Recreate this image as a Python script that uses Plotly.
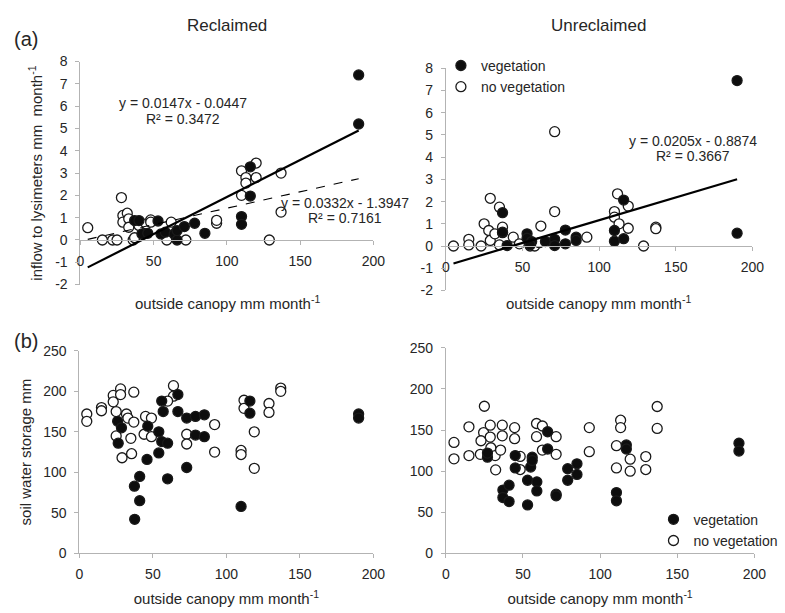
import plotly.graph_objects as go

FONT = "Liberation Sans, Arial, Helvetica, sans-serif"
INK = "#262626"
AXIS = "#b3b3b3"

# ---------------- (a) inflow to lysimeters, mm month-1 ----------------
# Reclaimed
rec_in_veg_x = [37, 40, 42, 46, 53, 55, 58, 64, 66, 66, 71, 78, 85, 110, 110, 116, 116, 190, 190]
rec_in_veg_y = [0.87, 0.87, 0.27, 0.3, 0.85, 0.27, 0.35, 0.27, 0.0, 0.42, 0.6, 0.75, 0.3,
                1.05, 0.7, 3.28, 1.97, 7.4, 5.2]
rec_in_nov_x = [5, 15, 22, 25, 28, 29, 29, 32, 33, 33, 36, 37, 40, 45, 48, 48, 59, 62, 72,
                93, 93, 110, 110, 113, 113, 120, 120, 129, 137, 137]
rec_in_nov_y = [0.55, 0, 0, 0, 1.9, 1.1, 0.8, 1.2, 0.95, 0.57, 0, 0.1, 0.65, 0.72, 0.9, 0.8,
                0, 0.8, 0, 0.75, 0.88, 3.1, 2.0, 2.8, 2.55, 3.45, 2.8, 0, 3.0, 1.25]

# Unreclaimed
unr_in_veg_x = [37, 37, 40, 53, 53, 56, 55, 65, 71, 71, 78, 78, 85, 85, 110, 110, 116, 116, 190, 190]
unr_in_veg_y = [1.5, 0.62, 0.02, 0.55, 0.35, 0.2, 0.05, 0.2, 0.3, 0.02, 0.72, 0.1, 0.4, 0.25,
                0.7, 0.22, 2.07, 0.33, 7.45, 0.58]
unr_in_nov_x = [5, 15, 15, 23, 25, 29, 28, 29, 32, 35, 37, 37, 35, 44, 48, 55, 58, 61, 62, 71,
                71, 92, 110, 110, 112, 113, 119, 119, 129, 137, 137]
unr_in_nov_y = [0, 0.3, 0.05, 0, 1.0, 2.15, 0.7, 0.25, 0.55, 1.75, 0.85, 0.6, 0.05, 0.4, 0.1,
                0, 0, 0.15, 0.9, 5.15, 1.55, 0.4, 1.55, 1.3, 2.35, 1.0, 1.8, 0.8, 0, 0.85, 0.78]

# Linear fits (slope, intercept) and the x span they cover
rec_fit_solid = (0.0332, -1.3947)
rec_fit_dash = (0.0147, -0.0447)
unr_fit_solid = (0.0205, -0.8874)
fit_x_span = [5, 190]

# ---------------- (b) soil water storage, mm ----------------
rec_sw_veg_x = [26, 28.6, 26.4, 37.4, 41, 41, 37.6, 46.5, 46, 54, 54, 56, 60, 56, 57, 60, 67, 67,
                73, 73, 79, 85, 79, 85, 110, 116, 116, 190, 190]
rec_sw_veg_y = [163, 155, 136, 83, 95, 65, 42, 157, 116, 150, 124, 138, 136, 188, 175, 92, 196,
                175, 167, 106, 169, 171, 146, 144, 58, 188, 173, 172, 167]
rec_sw_nov_x = [5, 5, 15, 15, 23, 23, 28, 28, 25, 32, 33, 37, 37, 25, 35, 29, 35.5, 45, 44, 49,
                49, 64, 64, 60, 73, 73, 92, 92, 110, 110, 112, 112, 119, 119, 129, 129, 137, 137]
rec_sw_nov_y = [172, 163, 180, 176, 195, 187, 203, 196, 175, 172, 167, 199, 162, 145, 142, 118,
                123, 169, 147, 167, 144, 207, 194, 188, 147, 135, 159, 125, 127, 122, 189, 179,
                150, 105, 185, 174, 204, 200]

unr_sw_veg_x = [27, 27, 37, 37, 41, 41, 45, 45, 53, 53, 55, 56, 56, 59, 59, 66, 66, 71.5, 71.5,
                79, 79, 85, 85, 110.6, 110.6, 117, 117, 190, 190]
unr_sw_veg_y = [117, 122, 77, 68, 83, 63, 119, 104, 89, 59, 105, 117, 113, 87, 76, 148, 127,
                72, 70, 103, 89, 109, 96, 74, 64, 132, 127, 134, 124.5]
unr_sw_nov_x = [5.3, 5.3, 15, 15, 25, 24.5, 22.8, 22.4, 28.8, 28.8, 29.2, 32, 32.3, 36.6, 36.6,
                35.5, 44.6, 44.6, 48.2, 48.2, 58.8, 58.8, 62.6, 62.6, 71.5, 71.5, 93, 93, 110.6,
                110.6, 113.3, 113.3, 119.5, 119.5, 129.6, 129.6, 137, 137]
unr_sw_nov_y = [135, 115, 154, 119, 179, 147, 137, 120.5, 156, 141.5, 128.5, 119, 101.6, 156,
                143, 125.7, 153, 139.5, 118, 102, 158, 142, 155, 125.7, 142, 120.5, 153, 123.7,
                131, 104, 162, 153, 114.6, 100, 117.8, 102, 178.7, 152]

# Tick values
x_ticks = [0, 50, 100, 150, 200]
inflow_ticks = list(range(-2, 9))
storage_ticks = [0, 50, 100, 150, 200, 250]

fig = go.Figure()


def add_points(x, y, filled, xa, ya, legend=None):
    fig.add_trace(go.Scatter(
        x=x, y=y, mode="markers", xaxis=xa, yaxis=ya,
        name="vegetation" if filled else "no vegetation",
        legendrank=1 if filled else 2,
        showlegend=legend is not None, legend=legend or "legend",
        marker=dict(size=10, symbol="circle",
                    color="#0d0d0d" if filled else "white",
                    line=dict(color="#1a1a1a", width=1.3)),
        hoverinfo="skip"))


def add_fit(coef, xa, ya, dash):
    slope, icpt = coef
    xs = fit_x_span
    fig.add_trace(go.Scatter(
        x=xs, y=[slope * v + icpt for v in xs], mode="lines", xaxis=xa, yaxis=ya,
        showlegend=False, hoverinfo="skip",
        line=dict(color="black", width=2.2 if dash == "solid" else 1.1, dash=dash)))


# panel order: 1 = reclaimed inflow, 2 = unreclaimed inflow, 3 = reclaimed storage, 4 = unreclaimed storage
add_points(rec_in_nov_x, rec_in_nov_y, False, "x", "y")
add_points(rec_in_veg_x, rec_in_veg_y, True, "x", "y")
add_fit(rec_fit_solid, "x", "y", "solid")
add_fit(rec_fit_dash, "x", "y", "dash")

add_points(unr_in_nov_x, unr_in_nov_y, False, "x2", "y2", legend="legend")
add_points(unr_in_veg_x, unr_in_veg_y, True, "x2", "y2", legend="legend")
add_fit(unr_fit_solid, "x2", "y2", "solid")

add_points(rec_sw_nov_x, rec_sw_nov_y, False, "x3", "y3")
add_points(rec_sw_veg_x, rec_sw_veg_y, True, "x3", "y3")

add_points(unr_sw_nov_x, unr_sw_nov_y, False, "x4", "y4", legend="legend2")
add_points(unr_sw_veg_x, unr_sw_veg_y, True, "x4", "y4", legend="legend2")

W, H = 785, 613


def px_x(p):
    return p / W


def px_y(p):
    return 1 - p / H


tick_font = dict(family=FONT, size=14, color=INK)
axis_common = dict(showgrid=False, zeroline=False, showline=True, linecolor=AXIS, linewidth=1,
                   ticks="outside", ticklen=4, tickcolor=AXIS, tickfont=tick_font,
                   tickmode="array")

# plot areas in pixels: (left, right, top, bottom)
box = {1: (78, 377, 55, 284), 2: (451, 764, 62, 290), 3: (77, 377, 352, 560), 4: (451, 766, 349, 560)}


def xdom(i):
    return [px_x(box[i][0]), px_x(box[i][1])]


def ydom(i):
    return [px_y(box[i][3]), px_y(box[i][2])]


def zero_pos(i):
    # paper position of y = 0 on a [-2, 8] axis
    lo, hi = ydom(i)
    return lo + (hi - lo) * 0.2


def labels(vals):
    # plain hyphen for negative numbers
    return [str(v) for v in vals]


def x_axis(i, **kw):
    return dict(domain=xdom(i), range=[0, 200], tickvals=x_ticks, ticktext=labels(x_ticks),
                ticklabelstandoff=4, **kw, **axis_common)


def y_axis(i, rng, vals, **kw):
    return dict(domain=ydom(i), range=rng, tickvals=vals, ticktext=labels(vals),
                ticklabelstandoff=5, anchor="x" if i == 1 else "x%d" % i, **kw, **axis_common)


title_font = dict(family=FONT, size=15, color=INK)
x_title_text = "outside canopy mm month<sup>-1</sup>"

fig.update_layout(
    width=W, height=H, margin=dict(l=0, r=0, t=0, b=0),
    plot_bgcolor="white", paper_bgcolor="white",
    font=dict(family=FONT, color=INK, size=14),
    xaxis=x_axis(1, anchor="free", position=zero_pos(1)),
    yaxis=y_axis(1, [-2, 8], inflow_ticks,
                 title=dict(text="inflow to lysimeters mm  month<sup>-1</sup>", standoff=8, font=title_font)),
    xaxis2=x_axis(2, anchor="free", position=zero_pos(2)),
    yaxis2=y_axis(2, [-2, 8], inflow_ticks),
    xaxis3=x_axis(3, anchor="y3", title=dict(text=x_title_text, standoff=12, font=title_font)),
    yaxis3=y_axis(3, [0, 250], storage_ticks,
                  title=dict(text="soil water storage mm", standoff=8, font=title_font)),
    xaxis4=x_axis(4, anchor="y4", title=dict(text=x_title_text, standoff=12, font=title_font)),
    yaxis4=y_axis(4, [0, 250], storage_ticks),
    legend=dict(x=px_x(446), y=px_y(43), xanchor="left", yanchor="top", bgcolor="rgba(0,0,0,0)",
                font=dict(family=FONT, size=14, color=INK), itemwidth=30, tracegroupgap=0),
    legend2=dict(x=px_x(663), y=px_y(509), xanchor="left", yanchor="top", bgcolor="rgba(0,0,0,0)",
                 font=dict(family=FONT, size=14, color=INK), itemwidth=30, tracegroupgap=0),
)

ann = []


def text(x, y, s, size=14, xref="paper", yref="paper", xanchor="center"):
    ann.append(dict(x=x, y=y, text=s, xref=xref, yref=yref, xanchor=xanchor, yanchor="middle",
                    showarrow=False, font=dict(family=FONT, size=size, color=INK)))


# panel labels and column headings
text(px_x(22), px_y(32), "(a)", size=20)
text(px_x(22), px_y(342), "(b)", size=20)
text(px_x(228), px_y(18), "Reclaimed", size=17)
text(px_x(607), px_y(18), "Unreclaimed", size=17)

# x-axis titles for the inflow panels sit below the plot area
text(px_x(228), px_y(302), x_title_text, size=15)
text(px_x(607), px_y(302), x_title_text, size=15)

# fit equations (data coordinates)
text(70, 6.12, "y = 0.0147x - 0.0447", xref="x", yref="y")
text(70, 5.42, "R² = 0.3472", xref="x", yref="y")
text(181, 1.66, "y = 0.0332x - 1.3947", xref="x", yref="y")
text(181, 0.98, "R² = 0.7161", xref="x", yref="y")
text(161.5, 4.74, "y = 0.0205x - 0.8874", xref="x2", yref="y2")
text(161.5, 4.04, "R² = 0.3667", xref="x2", yref="y2")

fig.update_layout(annotations=ann)

fig.write_html("out.html")
